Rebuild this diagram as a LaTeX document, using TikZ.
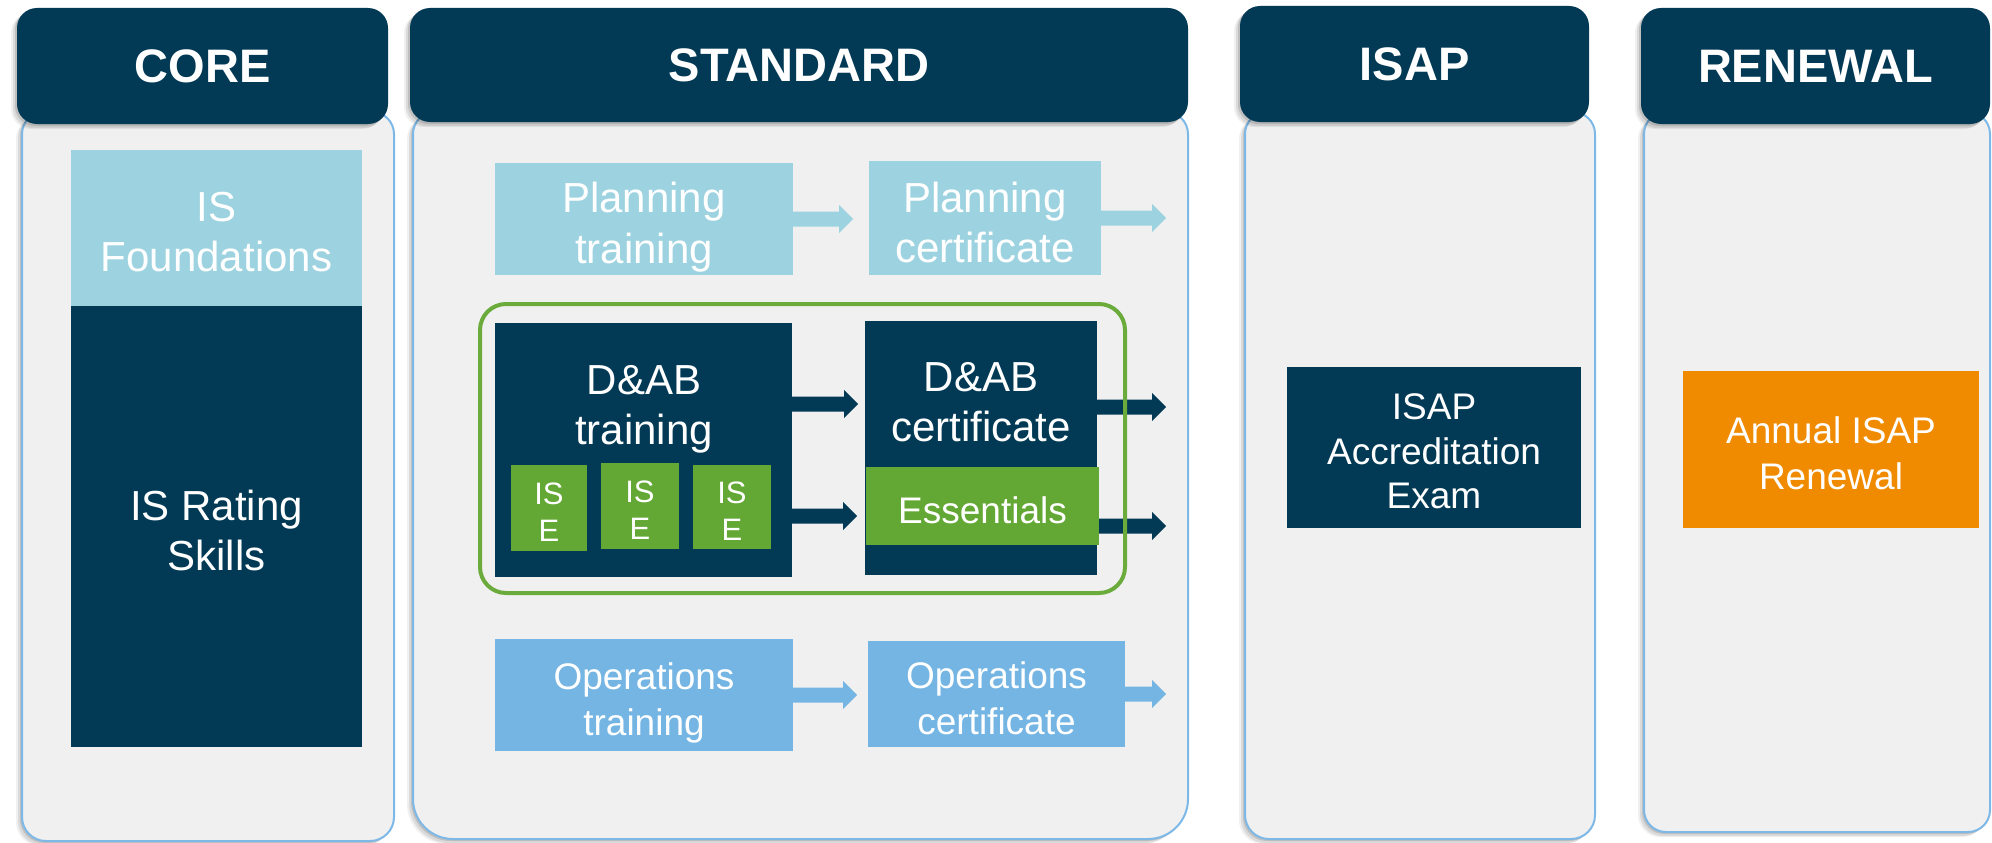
\documentclass[tikz,border=0pt]{standalone}
\usepackage{fontspec}
\setmainfont{Liberation Sans}
\usetikzlibrary{calc,shadows}
\definecolor{navy}{HTML}{023A55}
\definecolor{lcyan}{HTML}{9DD3E0}
\definecolor{lblue}{HTML}{74B5E3}
\definecolor{grn}{HTML}{63A834}
\definecolor{grnline}{HTML}{6AAB3B}
\definecolor{orng}{HTML}{F08B00}
\definecolor{panel}{HTML}{F0F0F0}
\definecolor{panelline}{HTML}{7DB8E6}
\newcommand\fsz[2]{\fontsize{#1}{#2}\selectfont}
\newcommand\drawpanel[6]{%
  \path[panelbox] (#1,{(#2+#4)/2}) [rounded corners=#5pt] -- (#1,#2) -- (#3,#2) -- (#3,{(#2+#4)/2})
     [rounded corners=#6pt] -- (#3,#4) -- (#1,#4) -- cycle;}
\newcommand\blockarrow[3]{%
  \fill[#1] ($(#2)+(0,-7.5)$) -- ($(#3)+(-14,-7.5)$) -- ($(#3)+(-14,-14)$) -- (#3)
     -- ($(#3)+(-14,14)$) -- ($(#3)+(-14,7.5)$) -- ($(#2)+(0,7.5)$) -- cycle;}
% name, fill, font style, cx, cy, width, height, text
\newcommand\boxtext[8]{%
  \node[fill=#2, minimum width=#6pt, minimum height=#7pt, inner sep=0pt] (#1) at (#4,#5) {};
  \node[tbox, #3] (#1t) at (#1) {#8};}
\tikzset{
  softshadow/.style={
    drop shadow={shadow xshift=-2pt,shadow yshift=-2pt,opacity=.12,fill=black},
    drop shadow={shadow xshift=-4pt,shadow yshift=-4pt,opacity=.09,fill=black},
    drop shadow={shadow xshift=-6pt,shadow yshift=-5pt,opacity=.06,fill=black}},
  hdr/.style={fill=navy, rounded corners=20pt, text=white, font=\bfseries\fsz{47}{50}, inner sep=0pt, softshadow},
  panelbox/.style={fill=panel, draw=panelline, line width=2pt, softshadow},
  tbox/.style={inner sep=0pt, align=center, text=white, yshift=-4pt},
  big/.style={font=\fsz{42}{50}},
  mid/.style={font=\fsz{37}{46}},
  small/.style={font=\fsz{31}{37}},
}
\begin{document}
\begin{tikzpicture}[x=1pt,y=-1pt]
\useasboundingbox[fill=white] (0,0) rectangle (1992,843);
% panels
\drawpanel{22}{112}{394}{841}{22}{24}
\drawpanel{413}{112}{1188}{839}{22}{40}
\drawpanel{1245}{112}{1595}{839}{22}{24}
\drawpanel{1644}{112}{1990}{832}{22}{22}
% headers
\node[hdr, minimum width=371pt, minimum height=116pt] (hcore) at (202.5,66) {CORE};
\node[hdr, minimum width=778pt, minimum height=114pt] (hstd) at (799,65) {STANDARD};
\node[hdr, minimum width=349pt, minimum height=116pt] (hisap) at (1414.5,64) {ISAP};
\node[hdr, minimum width=349pt, minimum height=116pt] (hren) at (1815.5,66) {RENEWAL};
% core
\boxtext{isf}{lcyan}{big}{216.5}{228}{291}{156}{IS\\Foundations}
\boxtext{isr}{navy}{big}{216.5}{526.5}{291}{441}{IS Rating\\Skills}
% standard: planning
\boxtext{pt}{lcyan}{font=\fsz{42}{51}}{644}{219}{298}{112}{Planning\\\smash{training}}
\boxtext{pc}{lcyan}{big}{985}{218}{232}{114}{Planning\\certificate}
% D&AB
\node[fill=navy, minimum width=297pt, minimum height=254pt, inner sep=0pt] (dt) at (643.5,450) {};
\node[tbox, big] (dtt) at (644,401) {D\&AB\\\smash{training}};
\boxtext{ise1}{grn}{small}{549}{508}{76}{86}{IS\\E}
\boxtext{ise2}{grn}{small}{640}{506}{78}{86}{IS\\E}
\boxtext{ise3}{grn}{small}{732}{507}{78}{84}{IS\\E}
\node[fill=navy, minimum width=232pt, minimum height=254pt, inner sep=0pt] (dc) at (981,448) {};
\node[tbox, big] (dct) at (981,398) {D\&AB\\certificate};
\boxtext{ess}{grn}{font=\fsz{37}{44}}{982.5}{506}{233}{78}{Essentials}
% operations
\boxtext{ot}{lblue}{mid}{644}{695}{298}{112}{Operations\\\smash{training}}
\boxtext{oc}{lblue}{mid}{996.5}{694}{257}{106}{Operations\\certificate}
% ISAP and renewal
\boxtext{exam}{navy}{font=\fsz{37}{44.5}}{1434}{447.5}{294}{161}{ISAP\\Accreditation\\Exam}
\boxtext{ren}{orng}{mid}{1831}{449.5}{296}{157}{Annual ISAP\\Renewal}
% arrows
\coordinate (edge) at (1166,0);
\coordinate (a1t) at ($(pt.east)+(60,0)$);
\coordinate (a2t) at (pc.east -| edge);
\coordinate (a3s) at ($(dt.east)+(0,-46)$);
\coordinate (a3t) at ($(a3s)+(66,0)$);
\coordinate (a4s) at ($(dt.east)+(0,66)$);
\coordinate (a4t) at ($(a4s)+(65,0)$);
\coordinate (a5s) at ($(dc.east)+(0,-41)$);
\coordinate (a5t) at (a5s -| edge);
\coordinate (a6s) at ($(ess.east)+(0,20)$);
\coordinate (a6t) at (a6s -| edge);
\coordinate (a7t) at ($(ot.east)+(64,0)$);
\coordinate (a8t) at (oc.east -| edge);
\blockarrow{lcyan}{pt.east}{a1t}
\blockarrow{lcyan}{pc.east}{a2t}
\blockarrow{navy}{a3s}{a3t}
\blockarrow{navy}{a4s}{a4t}
\blockarrow{navy}{a5s}{a5t}
\blockarrow{navy}{a6s}{a6t}
\blockarrow{lblue}{ot.east}{a7t}
\blockarrow{lblue}{oc.east}{a8t}
% green group
\node[draw=grnline, line width=4pt, rounded corners=26pt, minimum width=645pt, minimum height=289pt, inner sep=0pt] (grp) at (802.5,448.5) {};
\end{tikzpicture}
\end{document}
